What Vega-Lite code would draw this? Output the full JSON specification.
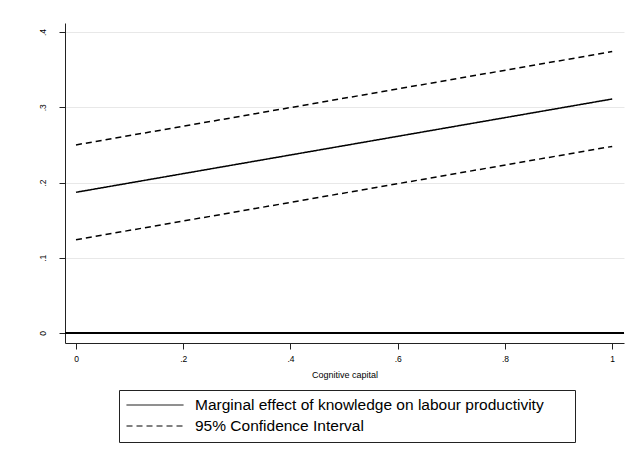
{
  "$schema": "https://vega.github.io/schema/vega-lite/v6.json",
  "width": 559,
  "height": 320,
  "autosize": {"type": "none"},
  "padding": {"left": 65, "top": 23, "right": 14, "bottom": 112},
  "background": "white",
  "config": {
    "view": {"stroke": null},
    "font": "Liberation Sans",
    "axis": {"domainColor": "#222", "tickColor": "#222", "labelColor": "#000", "titleColor": "#000", "labelFont": "Liberation Sans", "titleFont": "Liberation Sans", "titleFontWeight": "normal"}
  },
  "layer": [
    {
      "data": {"values": [
        {"x": 0, "y": 0.187, "series": "Marginal effect of knowledge on labour productivity", "bound": "est"},
        {"x": 1, "y": 0.311, "series": "Marginal effect of knowledge on labour productivity", "bound": "est"},
        {"x": 0, "y": 0.250, "series": "95% Confidence Interval", "bound": "upper"},
        {"x": 1, "y": 0.374, "series": "95% Confidence Interval", "bound": "upper"},
        {"x": 0, "y": 0.124, "series": "95% Confidence Interval", "bound": "lower"},
        {"x": 1, "y": 0.248, "series": "95% Confidence Interval", "bound": "lower"}
      ]},
      "mark": {"type": "line", "color": "black", "strokeWidth": 1.5, "clip": true},
      "encoding": {
        "x": {"field": "x", "type": "quantitative",
          "scale": {"domain": [-0.0205, 1.022], "nice": false, "zero": false},
          "axis": {"values": [0, 0.2, 0.4, 0.6, 0.8, 1], "grid": false, "title": "Cognitive capital", "titleFontSize": 9, "titlePadding": 8, "labelFontSize": 8.5, "labelPadding": 5, "tickSize": 6, "labelExpr": "replace(format(datum.value,'~g'),'0.','.')"}},
        "y": {"field": "y", "type": "quantitative",
          "scale": {"domain": [-0.0133, 0.412], "nice": false, "zero": false},
          "axis": {"values": [0, 0.1, 0.2, 0.3, 0.4], "grid": true, "gridColor": "#e8e8e8", "gridWidth": 1, "title": null, "labelFontSize": 8.5, "labelAngle": -90, "labelAlign": "center", "labelBaseline": "bottom", "labelPadding": 12, "tickSize": 6, "labelExpr": "replace(format(datum.value,'~g'),'0.','.')"}},
        "detail": {"field": "bound"},
        "strokeDash": {"field": "series", "type": "nominal",
          "scale": {"domain": ["Marginal effect of knowledge on labour productivity", "95% Confidence Interval"], "range": [[1, 0], [6, 4]]},
          "legend": {"title": null, "orient": "none", "legendX": 54, "legendY": 367, "direction": "vertical",
            "strokeColor": "#222", "padding": 7, "symbolType": "M-1,0H6.6", "symbolSize": 225, "symbolStrokeWidth": 1, "symbolStrokeColor": "black", "symbolDashOffset": 0,
            "labelFontSize": 15.5, "labelFont": "Liberation Sans", "labelColor": "#000", "labelOffset": 53, "rowPadding": 4, "labelLimit": 600,
            "labelExpr": "datum.label + '\u2800\u2800'"}}
      }
    },
    {
      "data": {"values": [{"y0": 0}]},
      "mark": {"type": "rule", "color": "black", "strokeWidth": 2},
      "encoding": {"y": {"field": "y0", "type": "quantitative"}}
    }
  ]
}
